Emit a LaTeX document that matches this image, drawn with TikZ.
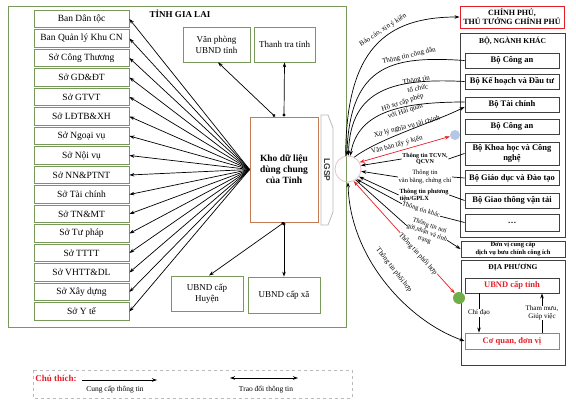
\documentclass[tikz,border=0pt]{standalone}
\usepackage{fontspec}
\setmainfont{Liberation Serif}
\newfontfamily\lgspfont{Liberation Sans}
\usetikzlibrary{arrows.meta}
\definecolor{khungxanh}{RGB}{120,152,92}
\definecolor{khungnau}{RGB}{196,122,82}
\definecolor{khungxam}{RGB}{64,64,64}
\definecolor{dodam}{RGB}{228,30,38}
\definecolor{xamnhat}{RGB}{185,185,185}
\definecolor{xamdam}{RGB}{60,60,60}
\definecolor{hongnhat}{RGB}{225,195,195}
\definecolor{xanhtron}{RGB}{112,173,71}
\definecolor{lamtron}{RGB}{180,199,231}

\begin{document}
\begin{tikzpicture}[x=1pt,y=-1pt,line width=0.7pt,
        every node/.style={align=center,inner sep=1pt},
        khung/.style={draw=khungxanh,line width=0.8pt},
        sobox/.style={khung,minimum width=95pt,minimum height=17.5pt,inner sep=0pt,font=\fontsize{9.5}{11}\selectfont},
        tinhbox/.style={khung,font=\fontsize{9}{11}\selectfont},
        bobox/.style={draw=khungxam,line width=0.9pt,minimum width=94pt,inner sep=0pt,font=\bfseries\fontsize{8.5}{9.5}\selectfont},
        tieude/.style={font=\bfseries\fontsize{7.5}{8.5}\selectfont},
        nhan/.style={font=\fontsize{7}{7.5}\selectfont,inner sep=0.5pt},
        nhanb/.style={nhan,fill=white},
        mui/.style={-{Stealth[length=5pt,width=3.5pt]}},
        haimui/.style={{Stealth[length=5pt,width=3.5pt]}-{Stealth[length=5pt,width=3.5pt]}},
        chammui/.style={{Circle[length=3pt]}-{Stealth[length=5pt,width=3.5pt]}}]
    \useasboundingbox (0,0) rectangle (576,403);

    %tinh gia lai
    \draw[khung] (8,6) rectangle (346,327);
    \node[font=\bfseries\fontsize{9}{10}\selectfont] (tinh) at (180,14) {TỈNH GIA LAI};
    \foreach \ten [count=\i] in {Ban Dân tộc,Ban Quản lý Khu CN,Sở Công Thương,Sở GD\&ĐT,Sở GTVT,Sở LĐTB\&XH,Sở Ngoại vụ,Sở Nội vụ,Sở NN\&PTNT,Sở Tài chính,Sở TN\&MT,Sở Tư pháp,Sở TTTT,Sở VHTT\&DL,Sở Xây dựng,Sở Y tế}
        \node[sobox] (so\i) at (81.5,{19.5*\i-0.5}) {\ten};
    \node[draw=khungnau,line width=0.9pt,minimum width=68pt,minimum height=105pt,font=\bfseries\fontsize{9.5}{11}\selectfont] (kho) at (284,169.5) {Kho dữ liệu\\dùng chung\\của Tỉnh};
    \foreach \i in {1,...,16}
        \draw[mui] (kho.west) -- (so\i.east);
    \node[tinhbox,minimum width=67pt,minimum height=35pt] (vp) at (216.5,44.5) {Văn phòng\\UBND tỉnh};
    \node[tinhbox,minimum width=61pt,minimum height=35pt] (tt) at (284.5,44.5) {Thanh tra tỉnh};
    \node[tinhbox,minimum width=72pt,minimum height=35pt] (huyen) at (207,293.5) {UBND cấp\\Huyện};
    \node[tinhbox,minimum width=72pt,minimum height=36pt] (xa) at (284,295) {UBND cấp xã};
    \draw[chammui] ([xshift=-9pt]kho.north) -- ([xshift=1.5pt]vp.south);
    \draw[chammui] (kho.north) -- (tt.south);
    \draw[chammui] (kho.south) -- ([xshift=2pt]huyen.north);
    \draw[chammui] (kho.south) -- (xa.north);

    %lgsp
    \draw[xamnhat,line width=0.8pt] (321,115) -- (328,115) -- (333,128) -- (333,212) -- (328,225) -- (321,225) -- cycle;
    \node[rotate=-90,font=\lgspfont\bfseries\fontsize{8.5}{9}\selectfont,text=xamdam] (lgsp) at (327,170) {LGSP};
    \node[circle,draw=hongnhat,line width=0.8pt,minimum size=26pt,inner sep=0pt] (hubR) at (348,169) {};

    %trung uong
    \node[draw=dodam,line width=0.9pt,minimum width=104pt,minimum height=22pt,font=\bfseries\fontsize{8}{9}\selectfont] (cp) at (512,17) {CHÍNH PHỦ,\\THỦ TƯỚNG CHÍNH PHỦ};
    \draw[khungxam,line width=0.9pt] (460,33) rectangle (565,237);
    \node[tieude] (bo) at (512.5,41) {BỘ, NGÀNH KHÁC};
    \foreach \ten/\y/\h/\ma in {Bộ Công an/60.5/15/bca1,Bộ Kế hoạch và Đầu tư/81.5/15/bkh,Bộ Tài chính/104.5/15/btc,Bộ Công an/126.5/15/bca2,{Bộ Khoa học và Công\\nghệ}/153.5/23/bkhcn,Bộ Giáo dục và Đào tạo/178/15/bgd,Bộ Giao thông vận tải/200.5/15/bgt,{\ldots}/222.5/17/bkhac}
        \node[bobox,minimum height=\h pt] (\ma) at (512,\y) {\ten};
    \node[draw=khungxam,line width=0.9pt,minimum width=104pt,minimum height=16pt,inner sep=0pt,font=\bfseries\fontsize{6.5}{7.5}\selectfont] (dvbc) at (513,249) {Đơn vị cung cấp\\dịch vụ bưu chính công ích};

    %dia phuong
    \draw[khungxam,line width=0.9pt] (461,260) rectangle (565,365);
    \node[tieude] (dp) at (513,268) {ĐỊA PHƯƠNG};
    \node[bobox,minimum height=15pt,text=dodam] (ubt) at (512,285.5) {UBND cấp tỉnh};
    \node[bobox,draw=khungxanh,minimum height=16pt,text=dodam] (cq) at (512,341) {Cơ quan, đơn vị};
    \draw[mui] ([xshift=-33pt]ubt.south) -- ([xshift=-33pt]cq.north) node[midway,nhanb] {Chỉ đạo};
    \draw[mui] ([xshift=30pt]cq.north) -- ([xshift=30pt]ubt.south) node[midway,nhanb] {Tham mưu,\\Giúp việc};
    \node[circle,fill=lamtron,minimum size=10pt,inner sep=0pt] (lam) at (455,135) {};
    \node[circle,fill=xanhtron,minimum size=12pt,inner sep=0pt] (xanh) at (459,298) {};

    %cac duong cong
    \draw[mui] (hubR.100) .. controls (346,50) and (385,17) .. (cp.west);
    \draw[mui] (bca1.west) .. controls (395,56) and (350,62) .. (hubR.95);
    \draw[mui] (bkh.west) .. controls (395,78) and (350,88) .. (hubR.88);
    \draw[mui] (btc.177) .. controls (400,102) and (358,112) .. (hubR.80);
    \draw[mui] (hubR.62) .. controls (380,138) and (435,122) .. (btc.183);
    \draw[dodam,haimui] (hubR.30) -- (lam);
    \draw[dodam,haimui] (hubR.-65) -- (xanh);
    \draw[haimui] (hubR.-90) .. controls (350,260) and (410,322) .. (cq.west);

    %nhan
    \node[nhan,rotate=33] (lbc) at (383,30) {Báo cáo, xin ý kiến};
    \node[nhan,rotate=13] (lcd) at (409,56) {Thông tin công dân};
    \node[nhan,rotate=10,font=\fontsize{7}{8.5}\selectfont] (ltc) at (417,84) {Thông tin\\tổ chức};
    \node[nhan,rotate=18,font=\fontsize{7}{9}\selectfont] (lhs) at (404,107) {Hồ sơ cấp phép\\với Hải quan};
    \node[nhan,rotate=15] (lxl) at (407,127) {Xử lý nghĩa vụ tài chính};
    \node[nhan,rotate=15] (lvb) at (397,145) {Văn bản lấy ý kiến};
    \node[nhanb,font=\bfseries\fontsize{6}{6.5}\selectfont] (ltcvn) at (425,159) {Thông tin TCVN,\\QCVN};
    \node[nhanb,font=\fontsize{6.5}{8}\selectfont] (lvbcc) at (425,177) {Thông tin\\văn bằng, chứng chỉ};
    \node[nhanb,font=\bfseries\fontsize{6.3}{7}\selectfont,align=left] (lgplx) at (424,195) {Thông tin phương\\tiện/GPLX};
    \node[nhanb,rotate=-18,inner sep=0pt,font=\fontsize{6.5}{7}\selectfont] (lkhac) at (421,210) {Thông tin khác};
    \node[nhanb,rotate=-20,inner sep=0pt,font=\fontsize{6.5}{7.5}\selectfont] (lnoi) at (427,233) {Thông tin nơi\\gửi,nhận và tình\\trạng};
    \node[nhanb,rotate=-48] (lph1) at (418,254) {Thông tin phối hợp};
    \node[nhan,rotate=-52] (lph2) at (394,270) {Thông tin phối hợp};
    \draw (bkhcn.west) -- (ltcvn.east);
    \draw[mui] (ltcvn.west) -- (hubR.15);
    \draw (bgd.west) -- (lvbcc.east);
    \draw[mui] (lvbcc.west) -- (hubR.-10);
    \draw (bgt.west) -- (lgplx.east);
    \draw[mui] (lgplx.west) -- (hubR.-35);
    \draw (bkhac.west) -- (lkhac.east);
    \draw[mui] (lkhac.west) -- (hubR.-50);
    \draw (lnoi.west) -- (hubR.-55);
    \draw[mui] (lnoi.east) -- (dvbc.west);

    %chu thich
    \draw[xamnhat,dashed,line width=0.8pt] (33,370) rectangle (352,398);
    \node[font=\bfseries\fontsize{9}{10}\selectfont,text=dodam] (chuthich) at (56,378) {Chú thích:};
    \coordinate (a1) at (82,380);
    \coordinate (a2) at (157,380);
    \draw[mui] (a1) -- (a2);
    \node[nhan,font=\fontsize{7.5}{8}\selectfont] (lcc) at (115,390) {Cung cấp thông tin};
    \coordinate (b1) at (230,378);
    \coordinate (b2) at (298,378);
    \draw[haimui] (b1) -- (b2);
    \node[nhan,font=\fontsize{7.5}{8}\selectfont] (ltd) at (266,390) {Trao đổi thông tin};
\end{tikzpicture}
\end{document}
